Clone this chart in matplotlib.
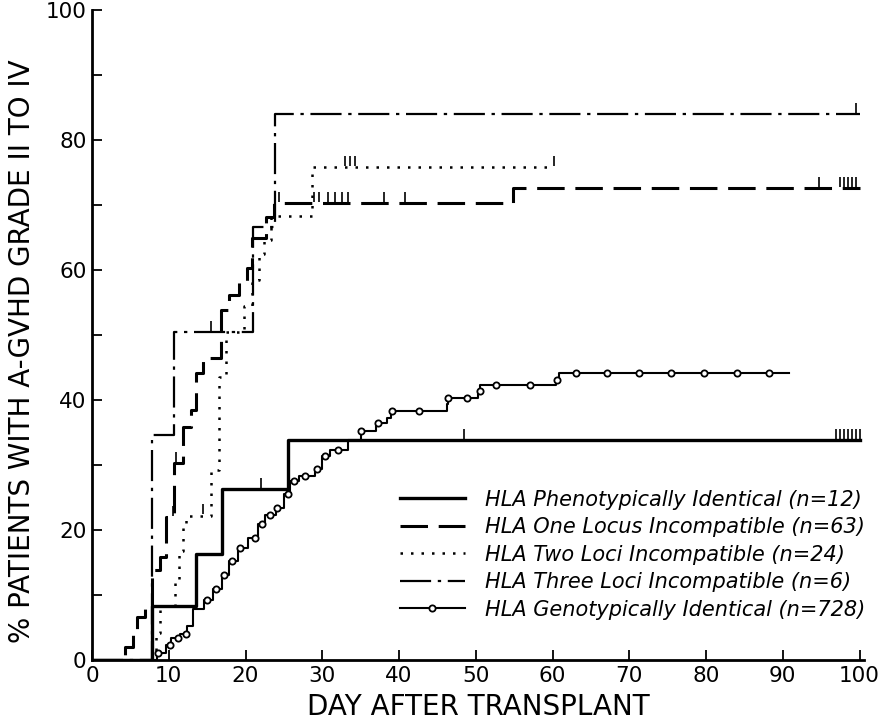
import numpy as np
import matplotlib
matplotlib.use("Agg")
import matplotlib.pyplot as plt

# Kaplan-Meier style step data (day, % with A-GVHD II-IV)
pheno_days = [0, 7.8, 13.6, 17.0, 25.5, 100]
pheno_pct = [0, 8.3, 16.3, 26.3, 33.8, 33.8]
pheno_cens = [22.0, 48.5, 97.0, 97.5, 98.0, 98.5, 99.0, 99.5, 100.0]

one_days = [0, 4.3, 5.3, 5.9, 6.9, 7.8, 8.8, 9.7, 10.7, 11.8, 12.9, 13.6, 14.4,
            16.8, 17.9, 19.2, 20.2, 20.9, 22.7, 23.7, 54.8, 100]
one_pct = [0, 2.0, 4.8, 6.6, 8.5, 13.8, 15.8, 22.0, 30.3, 35.8, 38.5, 44.1, 46.5,
           53.8, 56.2, 58.2, 60.3, 65.0, 68.2, 70.3, 72.6, 72.6]
one_cens = [10.6, 10.9, 24.3, 28.9, 29.6, 30.8, 31.6, 32.6, 33.4, 38.0, 40.8,
            94.7, 97.5, 98.0, 98.5, 99.0, 99.5]

two_days = [0, 8.3, 8.8, 10.8, 11.3, 11.8, 12.3, 15.5, 16.6, 17.5, 19.8, 20.9,
            21.8, 22.4, 23.3, 28.6, 60.2]
two_pct = [0, 4.2, 8.3, 12.5, 16.7, 20.8, 22.2, 29.2, 43.5, 50.4, 54.5, 58.5,
           62.5, 64.6, 68.3, 75.8, 75.8]
two_cens = [14.4, 33.0, 33.6, 34.3, 60.2]

three_days = [0, 7.8, 10.7, 21.0, 23.8, 100]
three_pct = [0, 34.6, 50.4, 66.7, 84.0, 84.0]
three_cens = [15.5, 99.6]

geno_days = [0, 8.5, 9.6, 10.3, 11.4, 12.4, 13.1, 14.6, 15.8, 16.9, 17.9, 19.0,
             20.3, 21.6, 22.6, 24.0, 25.0, 25.8, 27.0, 29.0, 30.0, 31.0, 33.4,
             35.0, 37.0, 38.5, 39.0, 46.2, 46.4, 50.3, 50.6, 60.5, 60.8, 90.8]
geno_pct = [0, 1.1, 2.3, 3.4, 4.0, 5.2, 7.8, 9.2, 11.0, 13.1, 15.2, 17.2,
            18.8, 21.0, 22.3, 23.4, 25.5, 27.6, 28.3, 29.4, 31.4, 32.3, 33.8,
            35.2, 36.4, 37.2, 38.3, 39.4, 40.3, 41.4, 42.3, 43.1, 44.2, 44.2]
geno_mark_days = [8.6, 10.1, 11.2, 12.2, 15.0, 16.1, 17.2, 18.2, 19.3, 21.2,
                  22.2, 23.2, 24.1, 25.6, 26.3, 27.8, 29.3, 30.4, 32.1, 35.1,
                  37.3, 39.1, 42.6, 46.4, 48.8, 50.5, 52.7, 57.1, 60.6, 63.0,
                  67.1, 71.3, 75.4, 79.7, 84.0, 88.2]

labels = ["HLA Phenotypically Identical (n=12)",
          "HLA One Locus Incompatible (n=63)",
          "HLA Two Loci Incompatible (n=24)",
          "HLA Three Loci Incompatible (n=6)",
          "HLA Genotypically Identical (n=728)"]


def step_value(days, pct, d):
    i = np.searchsorted(days, d, side="right") - 1
    return np.asarray(pct)[i]


fig = plt.figure(figsize=(8.89, 7.28), dpi=100)
ax = fig.add_axes([0.1035, 0.0934, 0.8685, 0.8926])

k = "black"
ax.step(pheno_days, pheno_pct, where="post", color=k, lw=2.4, label=labels[0])
ax.step(one_days, one_pct, where="post", color=k, lw=2.2,
        linestyle=(0, (9, 3.5)), label=labels[1])
ax.step(two_days, two_pct, where="post", color=k, lw=1.8,
        linestyle=(0, (1, 3.2)), label=labels[2])
ax.step(three_days, three_pct, where="post", color=k, lw=1.6,
        linestyle=(0, (14, 3, 1.5, 3)), label=labels[3])
ax.step(geno_days, geno_pct, where="post", color=k, lw=1.5)

gm_y = [step_value(geno_days, geno_pct, d) for d in geno_mark_days]
ax.plot(geno_mark_days, gm_y, "o", ms=4.5, mfc="white", mec=k, mew=1.3)
# legend proxy for the genotypic curve (line with a circle in the middle)
ax.plot([], [], color=k, lw=1.5, marker="o", ms=4.5, mfc="white", mec=k,
        mew=1.3, markevery=[1], label=labels[4])

# censoring ticks
for days, pct, cens in [(pheno_days, pheno_pct, pheno_cens),
                        (one_days, one_pct, one_cens),
                        (two_days, two_pct, two_cens),
                        (three_days, three_pct, three_cens)]:
    cy = [step_value(days, pct, d) + 1.0 for d in cens]
    ax.plot(cens, cy, "|", color=k, ms=7, mew=1.2)

ax.set_xlim(0, 100.6)
ax.set_ylim(0, 100)
ax.set_xticks(np.arange(0, 101, 10))
ax.set_yticks(np.arange(0, 101, 20))
ax.set_yticks(np.arange(10, 100, 20), minor=True)
ax.tick_params(axis="both", which="both", direction="in", length=7, width=1.3,
               labelsize=15.5, pad=4)
for s in ["top", "right"]:
    ax.spines[s].set_visible(False)
for s in ["left", "bottom"]:
    ax.spines[s].set_linewidth(2)

ax.set_xlabel("DAY AFTER TRANSPLANT", fontsize=20, labelpad=5)
ax.set_ylabel("% PATIENTS WITH A-GVHD GRADE II TO IV", fontsize=20)
ax.yaxis.set_label_coords(-0.072, 0.475)

handles, labs = ax.get_legend_handles_labels()
ax.legend(handles, labs, loc="upper left", bbox_to_anchor=(0.399, 0.262),
          frameon=False, prop={"style": "italic", "size": 15},
          handlelength=3.1, handletextpad=1.0, labelspacing=0.36,
          borderpad=0, borderaxespad=0)

fig.savefig("out.png", dpi=100)
